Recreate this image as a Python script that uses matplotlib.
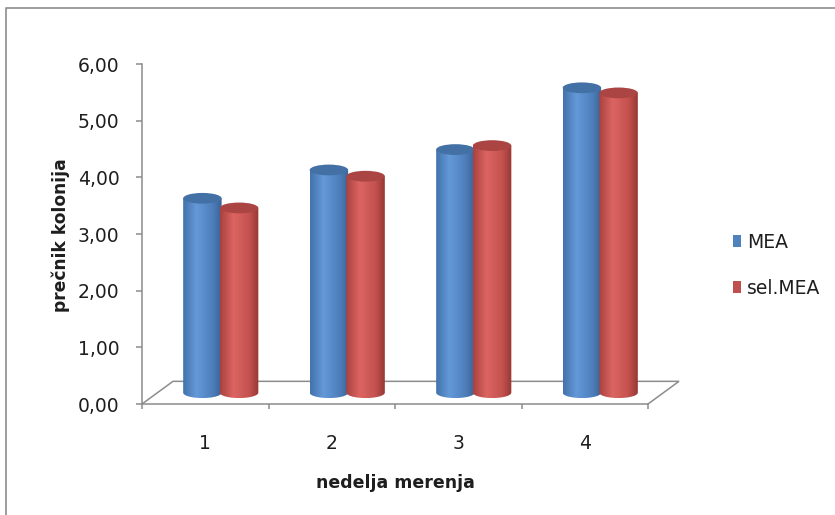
import numpy as np
import matplotlib
matplotlib.use("Agg")
import matplotlib.pyplot as plt
from matplotlib.patches import PathPatch, Ellipse, Patch
from matplotlib.lines import Line2D
from matplotlib.path import Path
from matplotlib.colors import to_rgb

# ---------------- data ----------------
categories = ["1", "2", "3", "4"]
series_names = ["MEA", "sel.MEA"]
mea_values = [3.43, 3.93, 4.29, 5.38]
sel_mea_values = [3.26, 3.82, 4.36, 5.29]
y_ticks = [0, 1, 2, 3, 4, 5, 6]
x_label = "nedelja merenja"
y_label = "prečnik kolonija"

# ---------------- style ----------------
W, H = 835, 515
plt.rcParams['font.family'] = ['DejaVu Sans']
TEXT = '#1e1e1e'
GRAY = '#8c8c8c'

body_stops = {
    "MEA": [(0.0, '#4272AC'), (0.35, '#6499D8'), (0.75, '#4E7FBC'), (1.0, '#3A6396')],
    "sel.MEA": [(0.0, '#A8413F'), (0.35, '#DC6562'), (0.75, '#C4524F'), (1.0, '#973734')],
}
top_colors = {"MEA": '#4371A6', "sel.MEA": '#AA4543'}
legend_colors = {"MEA": '#4F81BD', "sel.MEA": '#C0504D'}

fig = plt.figure(figsize=(W / 100, H / 100), dpi=100)
ax = fig.add_axes([142 / W, 1 - 404 / H, (648 - 142) / W, (404 - 64) / H])
ax.set_xlim(0.5, 4.5)
ax.set_ylim(0, 6)
ax.set_autoscale_on(False)
ax.patch.set_alpha(0)

# 3D depth offsets (in data units)
DX, DY = 0.245, 0.40
BASE = DY / 2
RY = 0.095          # half-height of ellipses
BW = 0.304          # cylinder width
OFF = 0.145         # series offset from group centre


def gradient_image(stops, n=256):
    pos = np.array([s[0] for s in stops])
    cols = np.array([to_rgb(s[1]) for s in stops])
    u = np.linspace(0, 1, n)
    img = np.stack([np.interp(u, pos, cols[:, k]) for k in range(3)], axis=-1)
    return img[np.newaxis, :, :]


def cylinder(xc, value, name, z):
    xl, xr = xc - BW / 2, xc + BW / 2
    top = BASE + value
    t = np.linspace(np.pi, 2 * np.pi, 60)
    ex = xc + (BW / 2) * np.cos(t)
    ey = BASE + RY * np.sin(t)
    verts = [(xl, top), (xl, BASE)] + list(zip(ex, ey)) + [(xr, BASE), (xr, top), (xl, top)]
    codes = [Path.MOVETO] + [Path.LINETO] * (len(verts) - 2) + [Path.CLOSEPOLY]
    body = PathPatch(Path(verts, codes), facecolor='none', edgecolor='none',
                     transform=ax.transData, zorder=z)
    ax.add_patch(body)
    im = ax.imshow(gradient_image(body_stops[name]), extent=[xl, xr, BASE - RY, top],
                   aspect='auto', interpolation='bilinear', zorder=z)
    im.set_clip_path(body)
    ax.add_patch(Ellipse((xc, top), BW, 2 * RY, facecolor=top_colors[name],
                         edgecolor='none', zorder=z + 0.5))


x_pos = np.arange(1, len(categories) + 1)
for i, xc in enumerate(x_pos):
    cylinder(xc + DX / 2 - OFF, mea_values[i], "MEA", 3 + i * 2)
    cylinder(xc + DX / 2 + OFF, sel_mea_values[i], "sel.MEA", 4 + i * 2)

ax.set_xlim(0.5, 4.5)
ax.set_ylim(0, 6)

# floor outline
fx = [0.5, 0.5 + DX, 4.5 + DX, 4.5]
fy = [0, DY, DY, 0]
ax.plot(fx, fy, color=GRAY, lw=1.1, clip_on=False, zorder=1, solid_joinstyle='miter')

# spines
for s in ['top', 'right']:
    ax.spines[s].set_visible(False)
for s in ['left', 'bottom']:
    ax.spines[s].set_color(GRAY)
    ax.spines[s].set_linewidth(1.1)

ax.set_yticks(y_ticks)
ax.set_yticklabels([f"{v:.2f}".replace('.', ',') for v in y_ticks])
ax.tick_params(axis='y', direction='out', length=4.3, width=1.1, color=GRAY,
               labelsize=13.5, labelcolor=TEXT, pad=12)
ax.set_xticks(x_pos)
ax.set_xticklabels(categories)
ax.set_xticks(np.arange(0.5, len(categories) + 1, 1.0), minor=True)
ax.tick_params(axis='x', which='major', length=0, labelsize=13.5, labelcolor=TEXT, pad=21.5)
ax.tick_params(axis='x', which='minor', direction='out', length=3.6, width=1.1, color=GRAY)

fig.text(395 / W, 1 - 488 / H, x_label, ha='center', va='baseline',
         fontsize=12.5, fontweight='bold', color=TEXT)
fig.text(61 / W, 1 - 235 / H, y_label, ha='center', va='center', rotation=90,
         fontsize=12.3, fontweight='bold', color=TEXT)

handles = [Patch(facecolor=legend_colors[n], edgecolor='none') for n in series_names]
fig.legend(handles, series_names, loc='upper left', bbox_to_anchor=(733 / W, 1 - 233 / H),
           frameon=False, fontsize=13.5, handlelength=0.42, handleheight=0.6,
           handletextpad=0.35, labelspacing=1.42, borderpad=0, borderaxespad=0,
           labelcolor=TEXT)

# chart frame (left and top edges are visible in the crop)
fig.add_artist(Line2D([6 / W, 6 / W, 1.2], [-0.1, 1 - 8 / H, 1 - 8 / H],
                      transform=fig.transFigure, color=GRAY, lw=1.2))

fig.savefig("out.png", dpi=100)
